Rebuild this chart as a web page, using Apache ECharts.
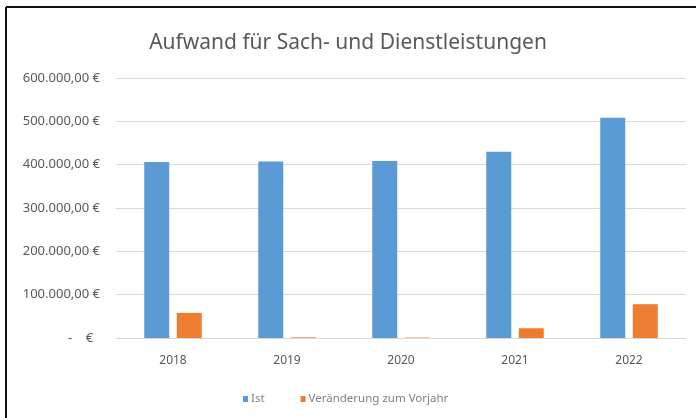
<!DOCTYPE html>
<html><head><meta charset="utf-8">
<script src="https://cdn.jsdelivr.net/npm/echarts@6/dist/echarts.min.js"></script>
<style>html,body{margin:0;padding:0;background:#fff}#c{width:696px;height:418px}</style>
</head><body><div id="c"></div>
<script>
const categories = ['2018', '2019', '2020', '2021', '2022'];
const istValues = [406000, 407500, 408500, 430000, 508000];
const changeValues = [58000, 1500, 1000, 22500, 78000];
const seriesNames = ['Ist', 'Veränderung zum Vorjahr'];
const titleText = 'Aufwand für Sach- und Dienstleistungen';

function fmt(v) {
  if (v === 0) return '-    €  ';
  const s = String(Math.round(v));
  const parts = [];
  for (let i = s.length; i > 0; i -= 3) parts.unshift(s.slice(Math.max(0, i - 3), i));
  return parts.join('.') + ',00 €';
}
const FONT = "'Noto Sans', 'Open Sans', sans-serif";
const chart = echarts.init(document.getElementById('c'));
chart.setOption({
  animation: false,
  textStyle: { fontFamily: FONT },
  title: {
    text: titleText, left: 'center', top: 28,
    textStyle: { fontFamily: FONT, fontSize: 21, fontWeight: 'normal', color: '#595959' }
  },
  legend: {
    data: seriesNames, top: 388, left: 238, itemWidth: 5, itemHeight: 6, itemGap: 36,
    icon: 'rect',
    textStyle: { fontFamily: FONT, fontSize: 11.5, color: '#7F7F7F', padding: [0, 0, 0, -2] }
  },
  grid: { left: 116, right: 10, top: 78, bottom: 80 },
  xAxis: {
    type: 'category', data: categories,
    axisLine: { lineStyle: { color: '#D9D9D9' } },
    axisTick: { show: false },
    axisLabel: { color: '#595959', fontSize: 12, margin: 17, fontFamily: FONT }
  },
  yAxis: {
    type: 'value', min: 0, max: 600000, interval: 100000,
    axisLine: { show: false }, axisTick: { show: false },
    splitLine: { lineStyle: { color: '#D9D9D9' } },
    axisLabel: { color: '#595959', fontSize: 13, margin: 16, formatter: fmt, fontFamily: FONT }
  },
  series: [
    { name: seriesNames[0], type: 'bar', data: istValues, barWidth: 25, barGap: '30%', itemStyle: { color: '#5B9BD5' } },
    { name: seriesNames[1], type: 'bar', data: changeValues, barWidth: 25, itemStyle: { color: '#ED7D31' } }
  ],
  graphic: [
    { type: 'line', shape: { x1: 6, y1: 7, x2: 696, y2: 7 }, style: { stroke: '#111', lineWidth: 2 }, silent: true },
    { type: 'line', shape: { x1: 6, y1: 7, x2: 6, y2: 418 }, style: { stroke: '#111', lineWidth: 2 }, silent: true }
  ]
});
</script></body></html>
